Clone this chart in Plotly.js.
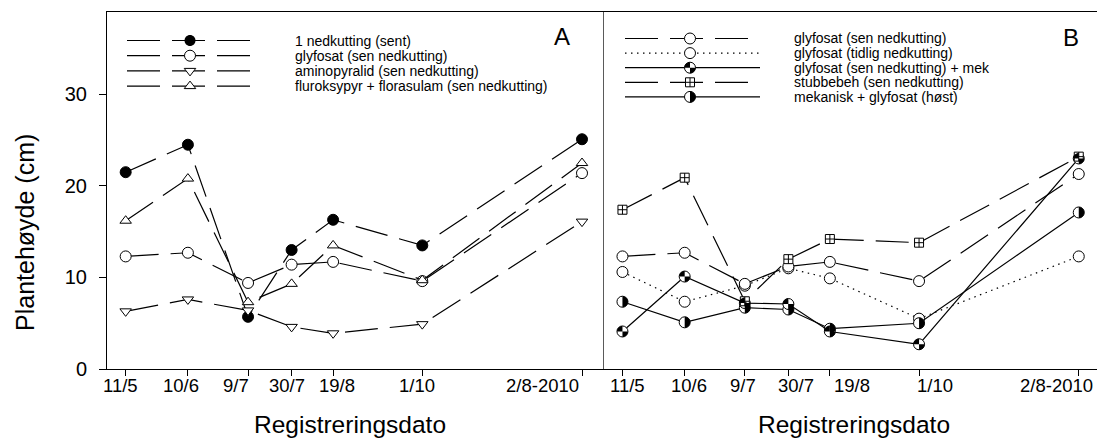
<!DOCTYPE html>
<html>
<head>
<meta charset="utf-8">
<script src="https://cdn.plot.ly/plotly-3.0.1.min.js"></script>
<style>html,body{margin:0;padding:0;background:#fff;}#chart{width:1097px;height:439px;}</style>
</head>
<body>
<div id="chart"></div>
<script>
// ---------- data ----------
const dateLabels = ['11/5', '10/6', '9/7', '30/7', '19/8', '1/10', '2/8-2010'];
// position of each registration date along the axis (days after 11/5; the 2010 date is drawn on a compressed axis)
const datePos = [0, 30, 59, 80, 100, 143, 220];

// Panel A
const namesA = ['1 nedkutting (sent)', 'glyfosat (sen nedkutting)', 'aminopyralid (sen nedkutting)', 'fluroksypyr + florasulam (sen nedkutting)'];
const nedkuttingSent = [21.5, 24.5, 5.7, 13.0, 16.3, 13.5, 25.1];
const glyfosatSenA = [12.3, 12.7, 9.4, 11.4, 11.7, 9.6, 21.4];
const aminopyralid = [6.3, 7.6, 6.4, 4.6, 3.9, 4.9, 16.1];
const fluroksypyr = [16.2, 20.8, 7.3, 9.3, 13.5, 9.7, 22.5];

// Panel B
const namesB = ['glyfosat (sen nedkutting)', 'glyfosat (tidlig nedkutting)', 'glyfosat (sen nedkutting) + mek', 'stubbebeh (sen nedkutting)', 'mekanisk + glyfosat (høst)'];
const glyfosatSenB = [12.3, 12.7, 9.3, 11.2, 11.7, 9.6, 21.3];
const glyfosatTidlig = [10.6, 7.35, 9.1, 11.0, 9.9, 5.5, 12.3];
const glyfosatMek = [4.1, 10.1, 7.2, 7.1, 4.1, 2.7, 23.0];
const stubbebeh = [17.4, 20.9, 7.4, 12.0, 14.2, 13.8, 23.2];
const mekaniskGlyfosat = [7.35, 5.1, 6.7, 6.5, 4.4, 5.0, 17.1];

const yTicks = [0, 10, 20, 30];

// ---------- layout constants ----------
const W = 1097, H = 439, ML = 107, MR = 0, MT = 12, MB = 70;
const PW = W - ML - MR, PH = H - MT - MB;
const splitFrac = (604 - ML) / PW;
const FONT = 'Liberation Sans, Arial, Helvetica, sans-serif';
const LONGDASH = '33px,12px';
const DOT = '1.5px,4.5px';
const LW = 1.2;
const px2x = p => (p - ML) / PW;
const px2y = p => (H - MB - p) / PH;

// marker geometry (pixel paths, y up)
function circlePath(r) {
  const k = 0.5523 * r;
  return `M ${r},0 C ${r},${k} ${k},${r} 0,${r} C ${-k},${r} ${-r},${k} ${-r},0 C ${-r},${-k} ${-k},${-r} 0,${-r} C ${k},${-r} ${r},${-k} ${r},0 Z`;
}
function rightHalfPath(r) {
  const k = 0.5523 * r;
  return `M 0,${r} C ${k},${r} ${r},${k} ${r},0 C ${r},${-k} ${k},${-r} 0,${-r} Z`;
}
function quarterPath(r) {
  const k = 0.5523 * r;
  return `M 0,0 L ${-r},0 C ${-r},${k} ${-k},${r} 0,${r} Z M 0,0 L ${r},0 C ${r},${-k} ${k},${-r} 0,${-r} Z`;
}
function triPath(r, up) {
  const rt = r * 2 / Math.sqrt(3), r2 = r / 2;
  return up ? `M ${-rt},${-r2} H ${rt} L 0,${r} Z` : `M ${-rt},${r2} H ${rt} L 0,${-r} Z`;
}
function sqCrossPath(r) {
  return `M ${-r},${-r} H ${r} V ${r} H ${-r} Z M ${-r},0 H ${r} M 0,${-r} V ${r}`;
}

// ---------- traces ----------
function tr(xa, ya, yv, name, symbol, fill, size, dash) {
  return {
    type: 'scatter', mode: 'lines+markers', x: datePos, y: yv, name: name,
    xaxis: xa, yaxis: ya, showlegend: false, hoverinfo: 'skip',
    line: {color: 'black', width: LW, dash: dash},
    marker: {symbol: symbol, size: size, color: fill, line: {color: 'black', width: 1}}
  };
}
const traces = [
  tr('x', 'y', nedkuttingSent, namesA[0], 'circle', 'black', 11, LONGDASH),
  tr('x', 'y', glyfosatSenA, namesA[1], 'circle', 'white', 11, LONGDASH),
  tr('x', 'y', aminopyralid, namesA[2], 'triangle-down', 'white', 10, LONGDASH),
  tr('x', 'y', fluroksypyr, namesA[3], 'triangle-up', 'white', 10, LONGDASH),
  tr('x2', 'y2', glyfosatTidlig, namesB[1], 'circle', 'white', 11, DOT),
  tr('x2', 'y2', glyfosatSenB, namesB[0], 'circle', 'white', 11, LONGDASH),
  tr('x2', 'y2', mekaniskGlyfosat, namesB[4], 'circle', 'white', 11, 'solid'),
  tr('x2', 'y2', glyfosatMek, namesB[2], 'circle', 'white', 11, 'solid'),
  tr('x2', 'y2', stubbebeh, namesB[3], 'square-cross', 'white', 9, LONGDASH)
];

// ---------- shapes (half-filled markers + custom legends) ----------
const shapes = [];
function markerShape(xref, yref, xa, ya, path, fill) {
  shapes.push({type: 'path', xref: xref, yref: yref, xsizemode: 'pixel', ysizemode: 'pixel',
    xanchor: xa, yanchor: ya, path: path, fillcolor: fill, line: {color: 'black', width: fill === 'black' ? 0 : 1}});
}
// half / quarter fills on data points
datePos.forEach((d, i) => {
  markerShape('x2', 'y2', d, mekaniskGlyfosat[i], rightHalfPath(5.5), 'black');
  markerShape('x2', 'y2', d, glyfosatMek[i], quarterPath(5.5), 'black');
});

const annotations = [];
const LEGFONT = 14;
function legendRow(x0, x1, xm, xText, yRow, dash, markers, label) {
  const yy = px2y(yRow);
  shapes.push({type: 'line', xref: 'paper', yref: 'paper', x0: px2x(x0), x1: px2x(x1), y0: yy, y1: yy,
    line: {color: 'black', width: LW, dash: dash}});
  markers.forEach(m => markerShape('paper', 'paper', px2x(xm), yy, m.path, m.fill));
  annotations.push({xref: 'paper', yref: 'paper', x: px2x(xText), y: yy, xanchor: 'left', yanchor: 'middle',
    borderpad: 0, text: label, showarrow: false, font: {family: FONT, size: LEGFONT, color: 'black'}});
}
const rowsA = [40.5, 55.7, 70.9, 86.1];
legendRow(127, 250, 190, 294, rowsA[0], LONGDASH, [{path: circlePath(5.5), fill: 'black'}], namesA[0]);
legendRow(127, 250, 190, 294, rowsA[1], LONGDASH, [{path: circlePath(5.5), fill: 'white'}], namesA[1]);
legendRow(127, 250, 190, 294, rowsA[2], LONGDASH, [{path: triPath(5, false), fill: 'white'}], namesA[2]);
legendRow(127, 250, 190, 294, rowsA[3], LONGDASH, [{path: triPath(5, true), fill: 'white'}], namesA[3]);

const rowsB = [38.5, 53.1, 67.7, 82.3, 96.9];
legendRow(625, 750, 690, 793, rowsB[0], LONGDASH, [{path: circlePath(5.5), fill: 'white'}], namesB[0]);
legendRow(625, 760, 690, 793, rowsB[1], DOT, [{path: circlePath(5.5), fill: 'white'}], namesB[1]);
legendRow(625, 760, 690, 793, rowsB[2], 'solid', [{path: circlePath(5.5), fill: 'white'}, {path: quarterPath(5.5), fill: 'black'}], namesB[2]);
legendRow(625, 750, 690, 793, rowsB[3], LONGDASH, [{path: sqCrossPath(4.5), fill: 'white'}], namesB[3]);
legendRow(625, 760, 690, 793, rowsB[4], 'solid', [{path: circlePath(5.5), fill: 'white'}, {path: rightHalfPath(5.5), fill: 'black'}], namesB[4]);

// ---------- text: tick labels, titles, panel letters ----------
const labelShiftA = [-5, -6.5, -12, -4.7, 3.8, -5.3, -40];
const labelShiftB = [5.5, 4.5, -1.5, 7.4, 21.9, 15.6, -22.3];
dateLabels.forEach((lab, i) => {
  annotations.push({xref: 'x', yref: 'paper', x: datePos[i], y: 0, xanchor: 'center', yanchor: 'middle',
    xshift: labelShiftA[i], yshift: -16, text: lab, showarrow: false, font: {family: FONT, size: 18.5, color: 'black'}});
  annotations.push({xref: 'x2', yref: 'paper', x: datePos[i], y: 0, xanchor: 'center', yanchor: 'middle',
    xshift: labelShiftB[i], yshift: -16, text: lab, showarrow: false, font: {family: FONT, size: 18.5, color: 'black'}});
});
annotations.push({xref: 'paper', yref: 'paper', x: px2x(350), y: px2y(425), xanchor: 'center', yanchor: 'middle',
  text: 'Registreringsdato', showarrow: false, font: {family: FONT, size: 24.5, color: 'black'}});
annotations.push({xref: 'paper', yref: 'paper', x: px2x(854), y: px2y(425), xanchor: 'center', yanchor: 'middle',
  text: 'Registreringsdato', showarrow: false, font: {family: FONT, size: 24.5, color: 'black'}});
annotations.push({xref: 'paper', yref: 'paper', x: px2x(25), y: px2y(233), xanchor: 'center', yanchor: 'middle',
  textangle: -90, text: 'Plantehøyde (cm)', showarrow: false, font: {family: FONT, size: 25, color: 'black'}});
annotations.push({xref: 'paper', yref: 'paper', x: px2x(562), y: px2y(37), xanchor: 'center', yanchor: 'middle',
  text: 'A', showarrow: false, font: {family: FONT, size: 24, color: 'black'}});
annotations.push({xref: 'paper', yref: 'paper', x: px2x(1071), y: px2y(38), xanchor: 'center', yanchor: 'middle',
  text: 'B', showarrow: false, font: {family: FONT, size: 24, color: 'black'}});

// ---------- axes ----------
const xBase = {
  showline: true, linecolor: 'black', linewidth: 1, mirror: true, showgrid: false, zeroline: false,
  ticks: 'outside', ticklen: 6, tickwidth: 1, tickcolor: 'black', tickvals: datePos, showticklabels: false
};
const layout = {
  width: W, height: H, margin: {l: ML, r: MR, t: MT, b: MB, pad: 0},
  paper_bgcolor: 'white', plot_bgcolor: 'white', showlegend: false,
  font: {family: FONT, color: 'black'},
  xaxis: Object.assign({}, xBase, {domain: [0, splitFrac], range: [-9, 230.6], anchor: 'y'}),
  xaxis2: Object.assign({}, xBase, {domain: [splitFrac, 1], range: [-8.9, 228.8], anchor: 'y2'}),
  yaxis: {domain: [0, 1], range: [0, 39], showline: true, linecolor: 'black', linewidth: 1, showgrid: false,
    zeroline: false, ticks: 'outside', ticklen: 7, tickcolor: 'black', tickvals: yTicks,
    ticktext: yTicks.map(String), tickfont: {family: FONT, size: 20, color: 'black'}, ticklabelstandoff: 8, anchor: 'x'},
  yaxis2: {domain: [0, 1], range: [0, 39], showline: true, linecolor: '#5a5a5a', linewidth: 1.3, showgrid: false,
    zeroline: false, ticks: '', showticklabels: false, anchor: 'x2'},
  shapes: shapes, annotations: annotations
};
Plotly.newPlot('chart', traces, layout, {staticPlot: true, displayModeBar: false});
</script>
</body>
</html>
